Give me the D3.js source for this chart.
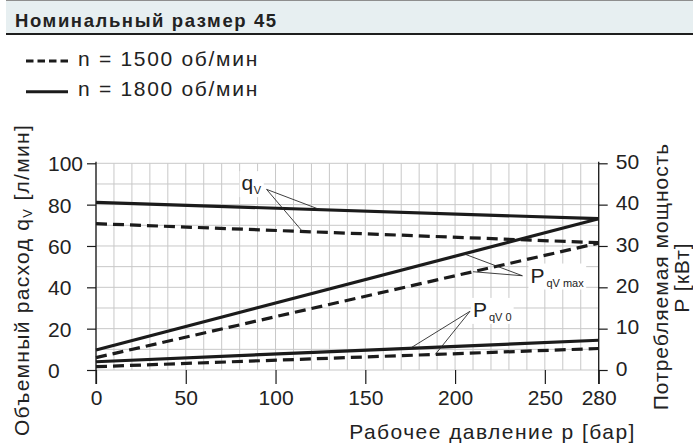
<!DOCTYPE html>
<html>
<head>
<meta charset="utf-8">
<script src="https://cdn.jsdelivr.net/npm/d3@7"></script>
<style>
  body { margin: 0; background: #fff; }
  svg { display: block; }
  text { font-family: "Liberation Sans", Arial, Helvetica, sans-serif; fill: #222; }
</style>
</head>
<body>
<svg id="chart" width="693" height="446"></svg>
<script>
// Operating pressure p [bar] at which each curve is given
const pressure = [0, 280];

// Flow q_V [l/min] (left axis)
const qv1800 = [81.1, 73.2];
const qv1500 = [70.8, 61.6];

// Power P [kW] (right axis)
const pMax1800 = [4.85, 36.6];
const pMax1500 = [3.0, 30.7];
const pZero1800 = [2.0, 7.2];
const pZero1500 = [0.8, 5.2];

// Axis ticks
const pressureTicks = [0, 50, 100, 150, 200, 250, 280];
const flowTicks = [0, 20, 40, 60, 80, 100];
const powerTicks = [0, 10, 20, 30, 40, 50];

// Text
const titleText = "Номинальный размер 45";
const legendLabels = ["n = 1500 об/мин", "n = 1800 об/мин"];

const svg = d3.select("#chart");
const black = "#1b1b1b";

// Plot frame
const x = d3.scaleLinear().domain([0, 280]).range([96, 598.7]);
const yQ = d3.scaleLinear().domain([0, 100]).range([370, 163.3]);
const yP = d3.scaleLinear().domain([0, 50]).range([370, 163.3]);

// Header band
svg.append("rect").attr("x", 6).attr("y", 0).attr("width", 687).attr("height", 33).attr("fill", "#e7eff1");
svg.append("rect").attr("x", 6).attr("y", 0).attr("width", 687).attr("height", 1).attr("fill", "#8e8e8e");
svg.append("rect").attr("x", 6).attr("y", 33).attr("width", 687).attr("height", 2).attr("fill", "#1e1e1e");
svg.append("text").attr("x", 15).attr("y", 26.5)
  .attr("font-size", 18.5).attr("font-weight", "bold").attr("letter-spacing", 1.6)
  .text(titleText);

// Legend
const legendStyles = [{ dash: "7.5,4" }, { dash: null }];
legendLabels.forEach((label, i) => {
  const ly = 61 + i * 30.7;
  svg.append("line").attr("x1", 26).attr("x2", 68).attr("y1", ly).attr("y2", ly)
    .attr("stroke", black).attr("stroke-width", 3)
    .attr("stroke-dasharray", legendStyles[i].dash);
  svg.append("text").attr("x", 78).attr("y", ly + 4.5)
    .attr("font-size", 21).attr("letter-spacing", 1.7).text(label);
});

// Grid
const grid = svg.append("g").attr("stroke", "#c8c8c8").attr("stroke-width", 1);
grid.selectAll("line.v").data(d3.range(0, 281, 10)).join("line")
  .attr("x1", d => x(d)).attr("x2", d => x(d))
  .attr("y1", yQ(100)).attr("y2", yQ(0));
grid.selectAll("line.h").data(d3.range(0, 101, 10)).join("line")
  .attr("x1", x(0)).attr("x2", x(280))
  .attr("y1", d => yQ(d)).attr("y2", d => yQ(d));

// Axes
function styleAxis(g) {
  g.select(".domain").remove();
  g.selectAll(".tick line").attr("stroke", black).attr("stroke-width", 1.2);
  g.selectAll(".tick text").attr("font-size", 21).attr("fill", "#222")
    .attr("font-family", '"Liberation Sans", Arial, sans-serif');
}

const leftAxis = svg.append("g").attr("transform", `translate(${x(0)},0)`)
  .call(d3.axisLeft(yQ).tickValues(flowTicks).tickSize(9).tickFormat(d3.format("d")))
  .call(styleAxis);
leftAxis.selectAll(".tick text").attr("text-anchor", "start").attr("x", -48).attr("dy", "0.36em");

const rightAxis = svg.append("g").attr("transform", `translate(${x(280)},0)`)
  .call(d3.axisRight(yP).tickValues(powerTicks).tickSize(9).tickPadding(8).tickFormat(d3.format("d")))
  .call(styleAxis);
rightAxis.selectAll(".tick text").attr("dy", "0.25em");

const bottomAxis = svg.append("g").attr("transform", `translate(0,${yQ(0)})`)
  .call(d3.axisBottom(x).tickValues(pressureTicks).tickSize(14).tickPadding(6).tickFormat(d3.format("d")))
  .call(styleAxis);

// Vertical axis lines reaching down to the tick ends
[x(0), x(280)].forEach(ax => {
  svg.append("line").attr("x1", ax).attr("x2", ax)
    .attr("y1", yQ(100) - 1.5).attr("y2", yQ(0) + 14)
    .attr("stroke", black).attr("stroke-width", 1.3);
});

// Curves
const curves = [
  { values: qv1800, scale: yQ, dash: null },
  { values: qv1500, scale: yQ, dash: "11,6" },
  { values: pMax1800, scale: yP, dash: null },
  { values: pMax1500, scale: yP, dash: "11,6" },
  { values: pZero1800, scale: yP, dash: null },
  { values: pZero1500, scale: yP, dash: "11,6" }
];
const plot = svg.append("g");
curves.forEach(c => {
  const line = d3.line().x((d, i) => x(pressure[i])).y(d => c.scale(d));
  plot.append("path").attr("d", line(c.values))
    .attr("fill", "none").attr("stroke", black).attr("stroke-width", 3.2)
    .attr("stroke-dasharray", c.dash);
});

// Value at pressure p along a curve
function along(c, p) {
  return c.scale(d3.scaleLinear().domain(pressure).range(c.values)(p));
}

// Curve annotations with leader lines
const annotations = [
  { main: "q", sub: "V", at: [95, 87.4], dx: -25, dy: 0.8, targets: [[0, 124.8], [1, 115]] },
  { main: "P", sub: "qV max", at: [237.5, 45.6], dx: 8, dy: 6.8, targets: [[2, 205], [3, 210]] },
  { main: "P", sub: "qV 0", at: [208.3, 28.4], dx: 3, dy: 5.6, targets: [[4, 175], [5, 189]] }
];
annotations.forEach(a => {
  const ax = x(a.at[0]), ay = yQ(a.at[1]);
  const g = svg.append("g");
  const bg = g.append("rect").attr("fill", "#fff");
  const t = g.append("text").attr("x", ax + a.dx).attr("y", ay + a.dy).attr("font-size", 21);
  t.append("tspan").text(a.main);
  t.append("tspan").attr("font-size", 11).attr("dx", a.main === "q" ? 0.5 : 2).attr("dy", 4).text(a.sub);
  const bb = t.node().getBBox();
  bg.attr("x", bb.x - 2).attr("y", bb.y).attr("width", bb.width + 4).attr("height", bb.height + 1);
  a.targets.forEach(([ci, p]) => {
    svg.append("line").attr("x1", ax).attr("y1", ay)
      .attr("x2", x(p)).attr("y2", along(curves[ci], p))
      .attr("stroke", "#2a2a2a").attr("stroke-width", 0.9);
  });
});

// Axis titles
svg.append("text").attr("x", 492.5).attr("y", 438.5).attr("text-anchor", "middle")
  .attr("font-size", 21).attr("letter-spacing", 1.45).text("Рабочее давление p [бар]");

const leftTitle = svg.append("text").attr("transform", "translate(28.5,280) rotate(-90)")
  .attr("text-anchor", "middle").attr("font-size", 21).attr("letter-spacing", 1.3);
leftTitle.append("tspan").text("Объемный расход q");
leftTitle.append("tspan").attr("font-size", 13).attr("dy", 3).text("V");
leftTitle.append("tspan").attr("dy", -3).text(" [л/мин]");

svg.append("text").attr("transform", "translate(668,276.5) rotate(-90)")
  .attr("text-anchor", "middle").attr("font-size", 21).attr("letter-spacing", 1)
  .text("Потребляемая мощность");
svg.append("text").attr("transform", "translate(688.5,277.5) rotate(-90)")
  .attr("text-anchor", "middle").attr("font-size", 21).attr("letter-spacing", 1)
  .text("P [кВт]");
</script>
</body>
</html>
